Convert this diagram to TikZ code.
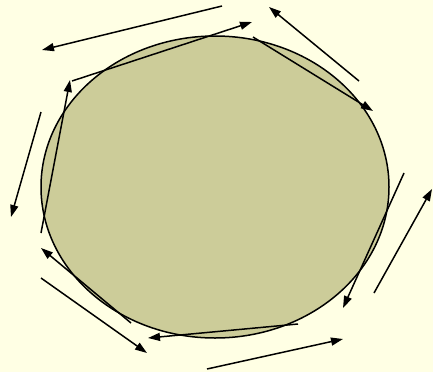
\documentclass[tikz,border=0pt]{standalone}
\usepackage{tikz}
\usetikzlibrary{arrows.meta}
\definecolor{bgcol}{RGB}{255,255,228}
\definecolor{blobcol}{RGB}{204,204,153}

\begin{document}
\begin{tikzpicture}[x=1pt,y=-1pt,
  arr/.style={line width=1.5pt,-{Triangle[length=12pt,width=8pt]}}]
  \fill[bgcol] (0,0) rectangle (433,372);
  \useasboundingbox (0,0) rectangle (433,372);
  % the blob
  \draw[fill=blobcol, line width=1.5pt] (215,187) ellipse [x radius=174, y radius=151];
  % end points of the arrows
  \foreach \n/\x/\y in {ia/253/37, ib/373/111, ic/404/173, id/343/308,
      ie/298/324, if/148/338, ig/131/323, ih/41/248, ii/41/233, ij/70/80,
      ik/72/81, il/252/22,
      oa/222/6, ob/42/50, oc/359/81, od/269/7, oe/374/293, of/432/189,
      og/207/369, oh/343/339, oi/41/278, oj/147/353, ok/41/112, ol/11/217}{
    \coordinate (\n) at (\x,\y);
  }
  % inner ring
  \foreach \a/\b in {ia/ib, ic/id, ie/if, ig/ih, ii/ij, ik/il}{
    \draw[arr] (\a) -- (\b);
  }
  % outer ring
  \foreach \a/\b in {oa/ob, oc/od, oe/of, og/oh, oi/oj, ok/ol}{
    \draw[arr] (\a) -- (\b);
  }
\end{tikzpicture}
\end{document}
